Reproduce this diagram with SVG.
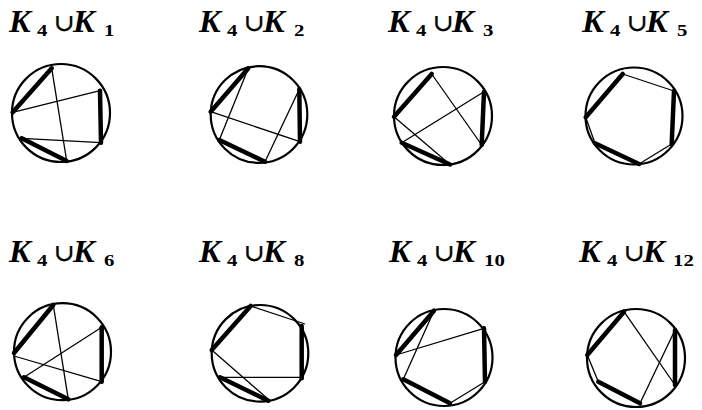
<svg xmlns="http://www.w3.org/2000/svg" width="702" height="410" viewBox="0 0 702 410">
<style>
.bg{fill:#fff}
.K{font-family:"Liberation Serif",serif;font-weight:bold;font-style:italic;font-size:31px;fill:#000}
.s{font-family:"Liberation Serif",serif;font-weight:bold;font-size:16px;fill:#000}
.u{font-family:"DejaVu Serif",serif;font-size:24px;fill:#000;stroke:#000;stroke-width:0.4}
.c{fill:none;stroke:#000;stroke-width:2.2}
.t{stroke:#000;stroke-width:4.5;stroke-linecap:round}
.n{stroke:#000;stroke-width:1.3}
</style>
<rect class="bg" x="0" y="0" width="702" height="410"/>
<defs>
<g id="lbl"><text class="K" transform="scale(1.05,1)">K</text><text class="s" transform="translate(28,4.5) scale(1.3,1)">4</text><text class="u" transform="translate(45,-1) scale(1.05,1)">∪</text><text class="K" transform="translate(64,0) scale(1.05,1)">K</text></g>
</defs>

<g id="p1">
<use href="#lbl" x="9" y="31.5"/><text class="s" transform="translate(104,36) scale(1.3,1)">1</text>
<circle class="c" cx="61" cy="113" r="49"/>
<g id="e1">
<line class="t" x1="51.7" y1="68.3" x2="12.7" y2="112.3"/>
<line class="t" x1="100" y1="90.7" x2="101" y2="142.7"/>
<line class="t" x1="21.7" y1="138.3" x2="66.7" y2="161"/>
<line class="n" x1="51.7" y1="68.3" x2="66.7" y2="161"/>
<line class="n" x1="12.7" y1="112.3" x2="100" y2="90.7"/>
<line class="n" x1="21.7" y1="138.3" x2="101" y2="142.7"/>
</g>
</g>

<g id="p2">
<use href="#lbl" x="199" y="31.5"/><text class="s" transform="translate(294,36) scale(1.3,1)">2</text>
<circle class="c" cx="259" cy="114.5" r="48.3"/>
<g id="e2">
<line class="t" x1="248.3" y1="68.3" x2="210.7" y2="111.7"/>
<line class="t" x1="299.3" y1="89.3" x2="300" y2="141.7"/>
<line class="t" x1="219.3" y1="140" x2="265" y2="161.7"/>
<line class="n" x1="248.3" y1="68.3" x2="219.3" y2="140"/>
<line class="n" x1="210.7" y1="111.7" x2="300" y2="141.7"/>
<line class="n" x1="299.3" y1="89.3" x2="265" y2="161.7"/>
</g>
</g>

<g id="p3">
<use href="#lbl" x="388" y="31.5"/><text class="s" transform="translate(483,36) scale(1.3,1)">3</text>
<circle class="c" cx="443" cy="116" r="49"/>
<g id="e3">
<line class="t" x1="431.7" y1="74" x2="394" y2="116.7"/>
<line class="t" x1="484" y1="91.7" x2="481.7" y2="145"/>
<line class="t" x1="401.7" y1="142.7" x2="450" y2="164.5"/>
<line class="n" x1="431.7" y1="74" x2="481.7" y2="145"/>
<line class="n" x1="394" y1="116.7" x2="450" y2="164.5"/>
<line class="n" x1="484" y1="91.7" x2="401.7" y2="142.7"/>
</g>
</g>

<g id="p4">
<use href="#lbl" x="582" y="31.5"/><text class="s" transform="translate(677,36) scale(1.3,1)">5</text>
<circle class="c" cx="634" cy="116" r="48.5"/>
<g id="e4">
<line class="t" x1="622.7" y1="74" x2="585.7" y2="117.3"/>
<line class="t" x1="674" y1="91" x2="671.7" y2="144"/>
<line class="t" x1="595" y1="143.3" x2="639" y2="164"/>
<line class="n" x1="622.7" y1="74" x2="674" y2="91"/>
<line class="n" x1="671.7" y1="144" x2="639" y2="164"/>
<line class="n" x1="595" y1="143.3" x2="585.7" y2="117.3"/>
</g>
</g>

<g id="p5">
<use href="#lbl" x="9" y="261.5"/><text class="s" transform="translate(104,266) scale(1.3,1)">6</text>
<circle class="c" cx="62.5" cy="351.7" r="48.5"/>
<g id="e5">
<line class="t" x1="53.3" y1="305" x2="14" y2="353"/>
<line class="t" x1="101.7" y1="327.3" x2="101.7" y2="381.7"/>
<line class="t" x1="24" y1="377.3" x2="68.3" y2="399.3"/>
<line class="n" x1="53.3" y1="305" x2="68.3" y2="399.3"/>
<line class="n" x1="14" y1="356" x2="101.7" y2="381.7"/>
<line class="n" x1="101.7" y1="327.3" x2="24" y2="377.3"/>
</g>
</g>

<g id="p6">
<use href="#lbl" x="199" y="261.5"/><text class="s" transform="translate(294,266) scale(1.3,1)">8</text>
<circle class="c" cx="260" cy="353.3" r="48.3"/>
<g id="e6">
<line class="t" x1="250.7" y1="306" x2="211.7" y2="350"/>
<line class="t" x1="301.7" y1="326" x2="301.7" y2="378.3"/>
<line class="t" x1="220" y1="377.3" x2="268.3" y2="400.7"/>
<line class="n" x1="250.7" y1="306" x2="305" y2="324"/>
<line class="n" x1="220" y1="377.3" x2="301.7" y2="377.3"/>
<line class="n" x1="211.7" y1="350" x2="270" y2="400.7"/>
</g>
</g>

<g id="p7">
<use href="#lbl" x="389" y="261.5"/><text class="s" transform="translate(484,266) scale(1.3,1)">10</text>
<circle class="c" cx="444" cy="357.5" r="48.5"/>
<g id="e7">
<line class="t" x1="434" y1="310.7" x2="396" y2="355"/>
<line class="t" x1="484" y1="328.3" x2="485" y2="381.7"/>
<line class="t" x1="403.3" y1="379.3" x2="450" y2="403.3"/>
<line class="n" x1="434" y1="310.7" x2="403.3" y2="379.3"/>
<line class="n" x1="396" y1="355" x2="484" y2="328.3"/>
<line class="n" x1="485" y1="381.7" x2="450" y2="403.3"/>
</g>
</g>

<g id="p8">
<use href="#lbl" x="579" y="261.5"/><text class="s" transform="translate(673,266) scale(1.3,1)">12</text>
<circle class="c" cx="636" cy="358" r="49"/>
<g id="e8">
<line class="t" x1="624" y1="311.7" x2="587.3" y2="355"/>
<line class="t" x1="675" y1="330" x2="675" y2="385"/>
<line class="t" x1="598.3" y1="381.7" x2="640" y2="403.3"/>
<line class="n" x1="624" y1="311.7" x2="675" y2="385"/>
<line class="n" x1="675" y1="330" x2="640" y2="403.3"/>
<line class="n" x1="587.3" y1="355" x2="598.3" y2="381.7"/>
</g>
</g>
</svg>
